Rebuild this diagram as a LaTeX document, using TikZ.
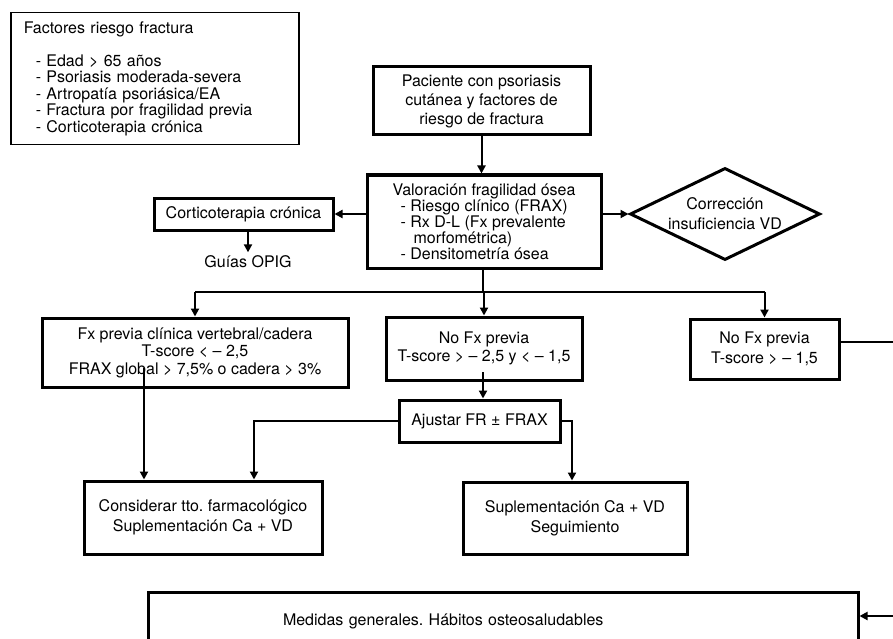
\documentclass[tikz,border=0pt]{standalone}
\usepackage{fontspec}
\setmainfont{TeX Gyre Heros}
\usetikzlibrary{positioning,shapes.geometric,arrows.meta}
\frenchspacing

\begin{document}
\begin{tikzpicture}[x=1pt, y=-1pt, font=\fontsize{16}{17}\selectfont,
        caja/.style={draw, line width=3pt, align=center, inner sep=3pt},
        flecha/.style={line width=2pt, -{Triangle[length=8pt,width=8pt]}},
        linea/.style={line width=2pt}]
        \useasboundingbox (0,0) rectangle (893,639);
        \clip (0,0) rectangle (893,639);
        \node[draw, line width=1.5pt, anchor=north west, minimum width=288, minimum height=132,
            text width=262, align=left, font=\fontsize{16}{16.5}\selectfont] (factores) at (10,12)
            {Factores riesgo fractura\\[16.5pt]
             \hspace*{12pt}- Edad > 65 años\\
             \hspace*{12pt}- Psoriasis moderada-severa\\
             \hspace*{12pt}- Artropatía psoriásica/EA\\
             \hspace*{12pt}- Fractura por fragilidad previa\\
             \hspace*{12pt}- Corticoterapia crónica};
        \node[caja, minimum width=217, minimum height=68, font=\fontsize{16}{19}\selectfont] (paciente) at (481.5,101)
            {Paciente con psoriasis\\cutánea y factores de\\riesgo de fractura};
        \node[caja, minimum width=234, minimum height=93, align=left, font=\fontsize{16}{16}\selectfont] (valoracion) at (484,221.5)
            {Valoración fragilidad ósea\\
             \hspace*{8pt}- Riesgo clínico (FRAX)\\
             \hspace*{8pt}- Rx D-L (Fx prevalente\\
             \hspace*{21pt}morfométrica)\\
             \hspace*{8pt}- Densitometría ósea};
        \node[caja, minimum width=179, minimum height=32] (cortico) at (243.5,214) {Corticoterapia crónica};
        \node (guias) at (248,262) {Guías OPIG};
        \node[diamond, draw, line width=3pt, shape aspect=2, minimum width=190, minimum height=92,
            inner sep=1pt, align=center, font=\fontsize{16}{20}\selectfont] (correccion) at (725,214)
            {Corrección\\insuficiencia VD};
        \node[caja, minimum width=306, minimum height=69, font=\fontsize{16}{17.5}\selectfont] (fxclin) at (195,352.5)
            {Fx previa clínica vertebral/cadera\\T-score < – 2,5\\FRAX global > 7,5\% o cadera > 3\%};
        \node[caja, minimum width=196, minimum height=63, font=\fontsize{16}{18}\selectfont] (nofx1) at (484,348.5)
            {No Fx previa\\T-score > – 2,5 y < – 1,5};
        \node[caja, minimum width=149, minimum height=60, font=\fontsize{16}{20}\selectfont] (nofx2) at (764.5,349)
            {No Fx previa\\T-score > – 1,5};
        \node[caja, minimum width=161, minimum height=42] (ajustar) at (479.5,421) {Ajustar FR ± FRAX};
        \node[caja, minimum width=238, minimum height=73, font=\fontsize{16}{20}\selectfont] (considerar) at (203,517.5)
            {Considerar tto. farmacológico\\Suplementación Ca + VD};
        \node[caja, minimum width=224, minimum height=72, font=\fontsize{16}{20}\selectfont] (suplem) at (575,518)
            {Suplementación Ca + VD\\Seguimiento};
        \node[caja, minimum width=710, minimum height=58, text width=440, align=left] (medidas) at (503,621)
            {Medidas generales. Hábitos osteosaludables};

        \coordinate (bifurca) at (483,292);
        \coordinate (s1) at (144,368);
        \coordinate (s2) at (483,372);
        \coordinate (borde1) at (893,342);
        \coordinate (borde2) at (893,616);

        \draw[flecha] (paciente.south) -- (paciente.south |- valoracion.north);
        \draw[flecha] (valoracion.west |- cortico.east) -- (cortico.east);
        \draw[flecha] (cortico.south -| guias) -- (guias.north);
        \draw[flecha] (valoracion.east |- correccion.west) -- (correccion.west);
        \draw[linea] (bifurca |- valoracion.south) -- (bifurca);
        \draw[linea] (bifurca -| fxclin.north) -- (bifurca -| nofx2.north);
        \foreach \caja in {fxclin,nofx1,nofx2}
            \draw[flecha] (bifurca -| \caja.north) -- (\caja.north);
        \draw[flecha] (s1) -- (s1 |- considerar.north);
        \draw[flecha] (s2) -- (s2 |- ajustar.north);
        \draw[flecha] (ajustar.west) -| ([xshift=51pt]considerar.north);
        \draw[flecha] (ajustar.east) -| ([xshift=-3pt]suplem.north);
        \draw[linea] (nofx2.east |- borde1) -- (borde1);
        \draw[flecha] (borde2) -- (borde2 -| medidas.east);
    \end{tikzpicture}
\end{document}
